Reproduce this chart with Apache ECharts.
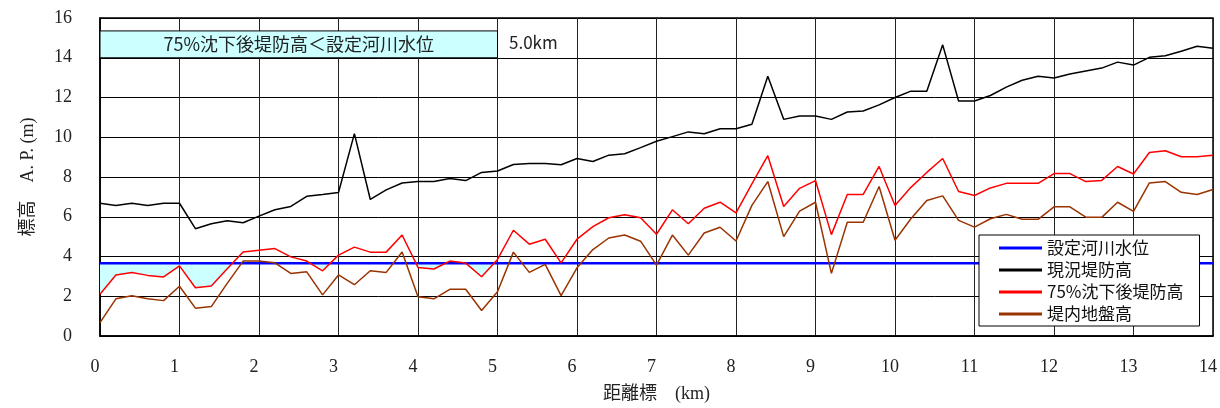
<!DOCTYPE html>
<html lang="ja">
<head>
<meta charset="utf-8">
<title>堤防高縦断図</title>
<script src="https://cdn.jsdelivr.net/npm/echarts@6/dist/echarts.min.js"></script>
<style>
  html, body { margin: 0; padding: 0; background: #fff; }
  #main { width: 1220px; height: 408px; }
</style>
</head>
<body>
<div id="main"></div>
<script type="text/javascript">
    // 距離標 (km) 0.2km間隔
    var km = [0, 0.2, 0.4, 0.6, 0.8, 1.0, 1.2, 1.4, 1.6, 1.8, 2.0, 2.2, 2.4, 2.6, 2.8, 3.0, 3.2, 3.4, 3.6, 3.8,
        4.0, 4.2, 4.4, 4.6, 4.8, 5.0, 5.2, 5.4, 5.6, 5.8, 6.0, 6.2, 6.4, 6.6, 6.8, 7.0, 7.2, 7.4, 7.6, 7.8,
        8.0, 8.2, 8.4, 8.6, 8.8, 9.0, 9.2, 9.4, 9.6, 9.8, 10.0, 10.2, 10.4, 10.6, 10.8, 11.0, 11.2, 11.4, 11.6, 11.8,
        12.0, 12.2, 12.4, 12.6, 12.8, 13.0, 13.2, 13.4, 13.6, 13.8, 14.0];
    // 現況堤防高
    var genkyo = [6.68, 6.57, 6.68, 6.57, 6.68, 6.68, 5.40, 5.65, 5.80, 5.70, 6.03, 6.35, 6.52, 7.03, 7.12, 7.22, 10.18, 6.87, 7.35, 7.70,
        7.77, 7.77, 7.93, 7.82, 8.23, 8.30, 8.63, 8.68, 8.68, 8.62, 8.93, 8.78, 9.10, 9.17, 9.48, 9.80, 10.03, 10.27, 10.18, 10.43,
        10.43, 10.65, 13.07, 10.90, 11.07, 11.07, 10.90, 11.27, 11.32, 11.63, 12.00, 12.32, 12.32, 14.65, 11.82, 11.82, 12.10, 12.52, 12.87, 13.07,
        12.98, 13.18, 13.33, 13.48, 13.78, 13.63, 14.02, 14.10, 14.33, 14.58, 14.48];
    // 75%沈下後堤防高
    var chinka = [2.10, 3.07, 3.20, 3.05, 2.97, 3.53, 2.43, 2.52, 3.38, 4.23, 4.32, 4.40, 3.98, 3.77, 3.28, 4.07, 4.47, 4.22, 4.22, 5.08,
        3.45, 3.37, 3.77, 3.67, 2.98, 3.85, 5.32, 4.62, 4.87, 3.68, 4.87, 5.50, 5.95, 6.10, 5.95, 5.12, 6.35, 5.65, 6.43, 6.73,
        6.20, 7.65, 9.07, 6.52, 7.43, 7.82, 5.10, 7.12, 7.12, 8.53, 6.57, 7.48, 8.23, 8.93, 7.27, 7.07, 7.45, 7.68, 7.68, 7.68,
        8.17, 8.17, 7.77, 7.83, 8.53, 8.15, 9.23, 9.32, 9.02, 9.02, 9.10];
    // 堤内地盤高
    var jiban = [0.67, 1.87, 2.03, 1.87, 1.78, 2.50, 1.40, 1.48, 2.65, 3.77, 3.77, 3.68, 3.15, 3.23, 2.07, 3.07, 2.58, 3.28, 3.20, 4.23,
        1.97, 1.87, 2.35, 2.35, 1.28, 2.23, 4.22, 3.20, 3.60, 2.03, 3.43, 4.35, 4.93, 5.08, 4.77, 3.57, 5.08, 4.07, 5.18, 5.47,
        4.78, 6.57, 7.77, 5.00, 6.28, 6.73, 3.15, 5.72, 5.72, 7.52, 4.82, 5.90, 6.82, 7.05, 5.82, 5.48, 5.90, 6.12, 5.87, 5.87,
        6.50, 6.50, 5.98, 5.97, 6.73, 6.27, 7.70, 7.77, 7.23, 7.12, 7.37];
    // 設定河川水位
    var suii = 3.66;
    var yTicks = [0, 2, 4, 6, 8, 10, 12, 14, 16];
    var xTicks = [0, 1, 2, 3, 4, 5, 6, 7, 8, 9, 10, 11, 12, 13, 14];

    var jp = "'Noto Sans CJK JP', sans-serif";
    var serif = "'Liberation Serif', 'Noto Sans CJK JP', serif";

    function pairs(ys) {
        var out = [];
        for (var i = 0; i < km.length; i++) out.push([km[i], ys[i]]);
        return out;
    }

    var myChart = echarts.init(document.getElementById('main'));
    var option = {
        animation: false,
        grid: {
            left: 100, right: 3, top: 18, bottom: 70,
            show: true, borderColor: '#000', borderWidth: 1.5, backgroundColor: '#fff'
        },
        legend: {
            left: 979, top: 235,
            orient: 'vertical',
            icon: 'rect',
            itemWidth: 43, itemHeight: 3, itemGap: 2,
            padding: [3, 16, 2, 20],
            backgroundColor: '#fff', borderColor: '#000', borderWidth: 1,
            textStyle: { fontFamily: jp, fontSize: 17, color: '#111', lineHeight: 20 },
            data: ['設定河川水位', '現況堤防高', '75%沈下後堤防高', '堤内地盤高']
        },
        xAxis: {
            type: 'value', min: 0, max: 14, interval: 1,
            name: '距離標　(km)', nameLocation: 'middle', nameGap: 49,
            nameTextStyle: { fontFamily: serif, fontSize: 18, color: '#222' },
            axisLine: { lineStyle: { color: '#000', width: 1.5 } },
            axisTick: { show: false },
            axisLabel: {
                fontFamily: serif, fontSize: 18, color: '#222', margin: 22, padding: [0, 10, 0, 0],
                formatter: function (v) { return xTicks.indexOf(v) >= 0 ? String(v) : ''; }
            },
            splitLine: { show: true, lineStyle: { color: '#222', width: 1 } }
        },
        yAxis: {
            type: 'value', min: 0, max: 16, interval: 2,
            name: '標高　A. P. (m)', nameLocation: 'middle', nameGap: 63, nameRotate: 90,
            nameTextStyle: { fontFamily: serif, fontSize: 18, color: '#222' },
            axisLine: { lineStyle: { color: '#000', width: 1.5 } },
            axisTick: { show: false },
            axisLabel: {
                fontFamily: serif, fontSize: 18, color: '#222', margin: 28,
                formatter: function (v) { return yTicks.indexOf(v) >= 0 ? String(v) : ''; }
            },
            splitLine: { show: true, lineStyle: { color: '#000', width: 1 } }
        },
        graphic: [{
            type: 'text', left: 509, top: 34, z: 100,
            style: { text: '5.0km', font: "17px 'Noto Sans CJK JP'", fill: '#222' }
        }],
        series: [
            {
                // 75%沈下後堤防高 < 設定河川水位 の区間を塗る
                type: 'custom', name: 'fill', silent: true, z: 1,
                data: [[0, suii]],
                encode: { x: 0, y: 1 },
                clip: true,
                renderItem: function (params, api) {
                    var children = [];
                    for (var i = 0; i < km.length - 1; i++) {
                        var da = suii - chinka[i], db = suii - chinka[i + 1];
                        if (da <= 0 && db <= 0) continue;
                        var pts;
                        if (da > 0 && db > 0) {
                            pts = [[km[i], suii], [km[i + 1], suii], [km[i + 1], chinka[i + 1]], [km[i], chinka[i]]];
                        } else {
                            var t = da / (da - db);
                            var xc = km[i] + t * (km[i + 1] - km[i]);
                            if (da > 0) pts = [[km[i], suii], [xc, suii], [km[i], chinka[i]]];
                            else pts = [[xc, suii], [km[i + 1], suii], [km[i + 1], chinka[i + 1]]];
                        }
                        children.push({
                            type: 'polygon',
                            shape: { points: pts.map(function (p) { return api.coord(p); }) },
                            style: { fill: '#CCFFFF', stroke: null }
                        });
                    }
                    return { type: 'group', children: children };
                }
            },
            {
                name: '設定河川水位', type: 'line', symbol: 'none', z: 3,
                data: [[0, suii], [14, suii]],
                itemStyle: { color: '#0000FF' },
                lineStyle: { color: '#0000FF', width: 2.5 },
                markArea: {
                    silent: true,
                    itemStyle: { color: '#CCFFFF', borderColor: '#000', borderWidth: 1 },
                    label: {
                        show: true, position: 'inside', fontFamily: jp, fontSize: 18, color: '#222'
                    },
                    data: [[{ name: '75%沈下後堤防高＜設定河川水位', coord: [0, 15.35] }, { coord: [5, 14] }]]
                }
            },
            {
                name: '現況堤防高', type: 'line', symbol: 'none', z: 4,
                data: pairs(genkyo),
                itemStyle: { color: '#000' },
                lineStyle: { color: '#000', width: 1.5 }
            },
            {
                name: '75%沈下後堤防高', type: 'line', symbol: 'none', z: 4,
                data: pairs(chinka),
                itemStyle: { color: '#FF0000' },
                lineStyle: { color: '#FF0000', width: 1.5 }
            },
            {
                name: '堤内地盤高', type: 'line', symbol: 'none', z: 4,
                data: pairs(jiban),
                itemStyle: { color: '#993300' },
                lineStyle: { color: '#993300', width: 1.5 }
            }
        ]
    };
    myChart.setOption(option);
</script>
</body>
</html>
